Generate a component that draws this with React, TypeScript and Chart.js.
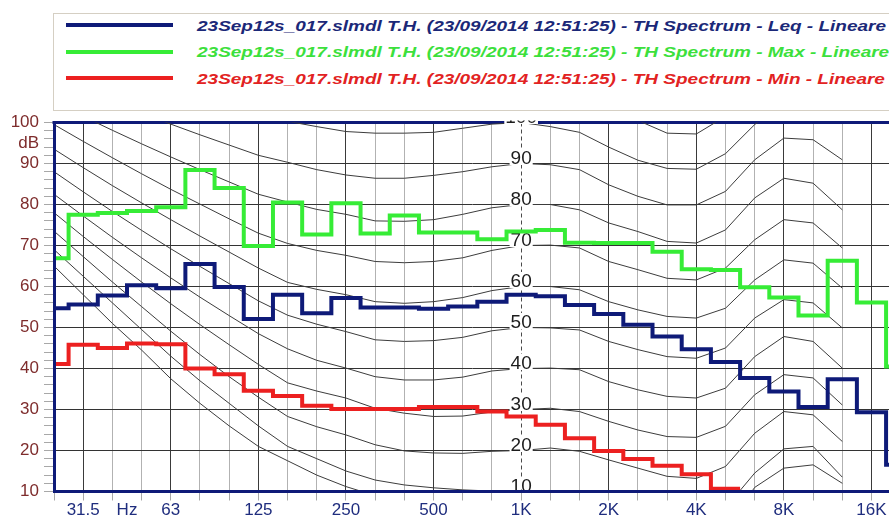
import React, { useEffect, useRef } from "react";
import { Chart, registerables } from "chart.js";

Chart.register(...registerables);

// Third-octave band centres, 25 Hz .. 20 kHz (index = x value on the chart)
const BANDS = ["25", "31.5", "40", "50", "63", "80", "100", "125", "160", "200", "250", "315", "400", "500", "630", "800", "1K", "1.25K", "1.6K", "2K", "2.5K", "3.15K", "4K", "5K", "6.3K", "8K", "10K", "12.5K", "16K", "20K"];

// Axis labels
const X_LABEL_POS = [1, 2.5, 4, 7, 10, 13, 16, 19, 22, 25, 28];
const X_LABEL_TEXT = ["31.5", "Hz", "63", "125", "250", "500", "1K", "2K", "4K", "8K", "16K"];
const OCTAVE_LINES = [1, 4, 7, 10, 13, 16, 19, 22, 25, 28];
const Y_LABEL_POS = [10, 20, 30, 40, 50, 60, 70, 80, 90, 95, 100];
const Y_LABEL_TEXT = ["10", "20", "30", "40", "50", "60", "70", "80", "90", "dB", "100"];
const ONE_K = 16;

// Measured spectra (dB), one value per band
const LEQ = [54.7, 55.6, 57.8, 60.3, 59.6, 65.5, 59.9, 52.1, 58.0, 53.5, 57.2, 54.9, 54.9, 54.6, 55.1, 56.3, 58.0, 57.6, 55.5, 53.3, 50.7, 47.8, 44.7, 41.6, 37.7, 34.4, 30.6, 37.4, 29.3, 16.5];
const MAX = [66.9, 77.5, 77.9, 78.4, 79.3, 88.4, 84.0, 69.9, 80.5, 72.7, 80.3, 72.9, 77.3, 73.2, 73.2, 71.5, 73.4, 73.8, 70.7, 70.6, 70.6, 68.5, 64.2, 64.0, 59.8, 57.3, 52.9, 66.3, 56.1, 40.5];
const MIN = [41.1, 45.8, 45.0, 46.1, 45.9, 40.0, 38.6, 34.6, 33.3, 30.9, 30.1, 30.1, 30.1, 30.6, 30.6, 29.5, 28.3, 26.3, 23.0, 19.9, 17.9, 16.3, 14.2, 10.7, null, null, null, null, null, null];

// Equal-loudness contours (dB per band, 25 Hz .. 12.5 kHz)
const PHON_LEVELS = [10, 20, 30, 40, 50, 60, 70, 80, 90, 100];
const CONTOUR_THRESHOLD = [65, 58, 51, 44.5, 37.5, 31.5, 26, 21, 17.5, 14, 11.2, 9, 7, 5.8, 5, 4.5, 4.2, 3.8, 2.5, 0, -2.5, -4.5, -4.5, 1, 11, 15.7, 16.5, 12];
const CONTOUR_10 = [69, 62.5, 56, 49.5, 43, 37, 31.5, 26, 21, 18, 15, 12.8, 11.6, 10.9, 10.4, 10.1, 10, 10.2, 9.6, 7.5, 5.5, 3.8, 3.2, 6, 14.5, 20.4, 21, 13.5];
const CONTOUR_20 = [73.5, 67.3, 61.1, 55.1, 49.1, 43.4, 38, 33, 28.3, 25.8, 23.8, 21.4, 19.9, 19.4, 19.3, 19.8, 20, 20.6, 19.8, 17.7, 15.7, 13.7, 13.2, 16.1, 24.2, 29.5, 28.7, 22.2];
const CONTOUR_30 = [78, 72.2, 66.6, 61.1, 55.8, 50.7, 45.8, 41, 36.5, 34.5, 32.8, 30.3, 29.1, 28.3, 28.4, 29.4, 30, 30.3, 29.5, 27.1, 25, 23.4, 23.2, 25.9, 33.6, 38.5, 37.7, 31.1];
const CONTOUR_40 = [82.5, 77.2, 72, 67, 62.1, 57.4, 52.9, 48.5, 44.8, 42, 40.1, 38, 37.2, 37.2, 37.9, 39.4, 40, 40.1, 39.7, 36.8, 34.8, 33.2, 32.8, 35.2, 42.9, 47.8, 46.6, 40.1];
const CONTOUR_50 = [88, 83.1, 78.3, 73.7, 69.2, 64.9, 60.7, 56.5, 53, 50.8, 49, 47, 46.6, 46.8, 47.6, 49.2, 50, 49.9, 49.4, 46.6, 44.6, 42.9, 42.5, 45, 52.3, 56.8, 56, 49.9];
const CONTOUR_60 = [93.5, 89, 84.6, 80.4, 76.3, 72.3, 68.4, 64.5, 61, 59.3, 58, 56.3, 55.9, 56.3, 57.3, 59, 60, 60, 59.2, 56.3, 54.3, 52.7, 52.3, 54.7, 61.6, 66.5, 65.7, 59.6];
const CONTOUR_70 = [99.5, 95.4, 91.4, 87.5, 83.7, 80.1, 76.5, 73, 70.5, 68.8, 67.6, 66.1, 65.8, 66.1, 67, 68.8, 70, 70.1, 69.4, 66.1, 64.1, 62, 61.6, 64.5, 71.4, 76.3, 75.5, 69.4];
const CONTOUR_80 = [105, 101.5, 98.1, 94.8, 91.6, 88.5, 85.5, 82.5, 80.6, 78.8, 77.6, 76, 75.9, 76.3, 77.6, 79.2, 80, 80, 78.7, 75.5, 73.4, 71, 70.6, 73.8, 81.6, 86.4, 85.2, 78.7];
const CONTOUR_90 = [111, 108, 105.1, 102.3, 99.6, 97, 94.5, 92, 90.3, 88.5, 87.2, 86.4, 86.4, 87.1, 88, 89.2, 90, 89.7, 88.5, 84.8, 82, 79.9, 79.9, 83.2, 90.9, 96.2, 95.8, 90.9];
const CONTOUR_100 = [117, 114.7, 112.4, 110.2, 108, 106, 104, 102, 100.3, 99, 97.8, 97.4, 97.4, 97.6, 98.6, 99.6, 100, 99, 97.6, 94, 90.8, 88.8, 88.6, 92.4, 99.5, 105, 105, 100.5];
const CONTOUR_110 = [null, null, null, null, null, null, null, null, null, null, null, null, null, null, null, null, null, null, 108, 104, 100.5, 97.4, 97.2, 101.5, 109, null, null, null];

const CONTOURS = [CONTOUR_THRESHOLD, CONTOUR_10, CONTOUR_20, CONTOUR_30, CONTOUR_40, CONTOUR_50, CONTOUR_60, CONTOUR_70, CONTOUR_80, CONTOUR_90, CONTOUR_100, CONTOUR_110];

const NAVY = "#0e1a78";
const GREEN = "#36ec36";
const RED = "#ec2020";
const FONT = '"Liberation Sans", Arial, Helvetica, sans-serif';

const LEGEND_BASE = "23Sep12s_017.slmdl T.H. (23/09/2014 12:51:25) - TH Spectrum - ";
const LEGEND_ROWS = [
  { text: LEGEND_BASE + "Leq - Lineare", line: NAVY, color: "#1b2878" },
  { text: LEGEND_BASE + "Max - Lineare", line: GREEN, color: "#3ce03c" },
  { text: LEGEND_BASE + "Min - Lineare", line: RED, color: "#e22222" },
];

// Each band value covers the span between its band edges (index +/- 0.5)
function stepPoints(values: (number | null)[]) {
  const pts: { x: number; y: number }[] = [];
  let last = -1;
  values.forEach((v, i) => {
    if (v !== null) {
      pts.push({ x: i - 0.5, y: v });
      last = i;
    }
  });
  pts.push({ x: last + 0.5, y: values[last] as number });
  return pts;
}

function contourPoints(values: (number | null)[]) {
  return values.map((v, i) => ({ x: i, y: v }));
}

const xGridValues = (): number[] => {
  const v: number[] = [];
  for (let i = 0; i <= 28; i++) {
    v.push(i);
    if (i === 2) v.push(2.5);
  }
  return v;
};

const yGridValues = (): number[] => {
  const v: number[] = [];
  for (let d = 10; d <= 100; d += 2) {
    v.push(d);
    if (d === 94) v.push(95);
  }
  return v;
};

const phonLabelPlugin = {
  id: "phonLabels",
  beforeDatasetsDraw(chart: any) {
    chart.$phonDone = false;
    const { ctx, chartArea } = chart;
    ctx.save();
    ctx.strokeStyle = NAVY;
    ctx.lineWidth = 3;
    ctx.beginPath();
    ctx.moveTo(chartArea.left - 1.5, chartArea.top);
    ctx.lineTo(chartArea.right, chartArea.top);
    ctx.stroke();
    ctx.restore();
  },
  beforeDatasetDraw(chart: any, args: any) {
    if (args.index < CONTOURS.length || chart.$phonDone) return;
    chart.$phonDone = true;
    const { ctx, chartArea } = chart;
    const { left, right, top, bottom } = chartArea;
    const xs = chart.scales.x;
    const ys = chart.scales.y;
    const x = xs.getPixelForValue(ONE_K);
    ctx.save();
    ctx.beginPath();
    ctx.rect(left, top - 2, right - left, bottom - top + 2);
    ctx.clip();
    ctx.font = "19px " + FONT;
    ctx.textAlign = "center";
    ctx.textBaseline = "alphabetic";
    PHON_LEVELS.forEach((p) => {
      const y = ys.getPixelForValue(p);
      const t = String(p);
      const w = ctx.measureText(t).width;
      const yTop = y - 14.5;
      const yBot = Math.min(y + 1.5, bottom - 2);
      ctx.fillStyle = "#ffffff";
      ctx.fillRect(x - w / 2 - 1, yTop, w + 2, yBot - yTop);
      ctx.fillStyle = "#1c1c1c";
      ctx.fillText(t, x, y + 0.5);
    });
    ctx.restore();
  },
};

function Legend() {
  const font = "italic bold 15px " + FONT;
  let scale = 1.27;
  if (typeof document !== "undefined") {
    const c = document.createElement("canvas").getContext("2d");
    if (c) {
      c.font = font;
      const w = c.measureText(LEGEND_ROWS[0].text).width;
      if (w > 0) scale = 689 / w;
    }
  }
  const rowY = [25, 51.7, 78.3];
  return (
    <div
      style={{
        position: "absolute",
        left: 53,
        top: 13,
        width: 900,
        height: 98,
        border: "1px solid #d5cfc3",
        boxSizing: "border-box",
        overflow: "hidden",
        background: "#ffffff",
      }}
    >
      {LEGEND_ROWS.map((r, i) => (
        <React.Fragment key={i}>
          <div
            style={{
              position: "absolute",
              left: 66 - 54,
              top: rowY[i] - 14 - 2,
              width: 107,
              height: 4,
              background: r.line,
            }}
          />
          <div
            style={{
              position: "absolute",
              left: 196.7 - 54,
              top: rowY[i] - 14 - 7.3,
              whiteSpace: "nowrap",
              font,
              lineHeight: "15px",
              color: r.color,
              transform: `scaleX(${scale})`,
              transformOrigin: "0 0",
            }}
          >
            {r.text}
          </div>
        </React.Fragment>
      ))}
    </div>
  );
}

export default function App() {
  const canvasRef = useRef<HTMLCanvasElement | null>(null);

  useEffect(() => {
    const canvas = canvasRef.current;
    if (!canvas) return;

    const contourSets = CONTOURS.map((vals) => ({
      data: contourPoints(vals),
      borderColor: "#3c3c3c",
      borderWidth: 1,
      pointRadius: 0,
      tension: 0,
      spanGaps: false,
      order: 2,
    }));

    const stepSet = (vals: (number | null)[], color: string) => ({
      data: stepPoints(vals),
      borderColor: color,
      borderWidth: 4,
      pointRadius: 0,
      stepped: "before" as const,
      borderJoinStyle: "miter" as const,
      borderCapStyle: "butt" as const,
      order: 1,
    });

    const xGrid = xGridValues();
    const yGrid = yGridValues();

    const chart = new Chart(canvas, {
      type: "line",
      data: {
        datasets: [...contourSets, stepSet(LEQ, NAVY), stepSet(MAX, GREEN), stepSet(MIN, RED)] as any,
      },
      plugins: [phonLabelPlugin],
      options: {
        responsive: false,
        animation: false,
        devicePixelRatio: 1,
        layout: { padding: { top: 122.5, left: 0, right: 0, bottom: 0 } },
        plugins: { legend: { display: false }, tooltip: { enabled: false } },
        elements: { point: { radius: 0 } },
        scales: {
          x: {
            type: "linear",
            min: 0,
            max: 28.6,
            afterBuildTicks: (s: any) => {
              s.ticks = xGrid.map((v) => ({ value: v }));
            },
            afterFit: (s: any) => {
              s.height = 34.5;
            },
            ticks: {
              autoSkip: false,
              maxRotation: 0,
              minRotation: 0,
              padding: 0,
              color: "#1f2d7e",
              font: { family: FONT, size: 17 },
              callback: (v: any) => {
                const k = X_LABEL_POS.indexOf(Number(v));
                return k >= 0 ? X_LABEL_TEXT[k] : "";
              },
            },
            grid: {
              lineWidth: 1,
              tickLength: 9,
              color: (c: any) => {
                const v = c.tick ? c.tick.value : -1;
                if (v === 2.5) return "rgba(0,0,0,0)";
                if (v === ONE_K) return "#4a4a4a";
                return OCTAVE_LINES.indexOf(v) >= 0 ? "#3a3a3a" : "#b2b2b2";
              },
              tickColor: (c: any) => {
                const v = c.tick ? c.tick.value : -1;
                return v === 2.5 ? "rgba(0,0,0,0)" : "#a8a8a8";
              },
            },
            border: {
              display: true,
              color: NAVY,
              width: 3,
              z: 1,
              dash: (c: any) => (c.tick && c.tick.value === ONE_K ? [4, 3] : []),
            },
          },
          y: {
            type: "linear",
            min: 10,
            max: 100,
            afterBuildTicks: (s: any) => {
              s.ticks = yGrid.map((v) => ({ value: v }));
            },
            afterFit: (s: any) => {
              s.width = 54;
            },
            ticks: {
              autoSkip: false,
              padding: 5,
              color: "#7e2c2c",
              font: { family: FONT, size: 17 },
              callback: (v: any) => {
                const k = Y_LABEL_POS.indexOf(Number(v));
                return k >= 0 ? Y_LABEL_TEXT[k] : "";
              },
            },
            grid: {
              lineWidth: 1,
              tickLength: 10,
              color: (c: any) => {
                const v = c.tick ? c.tick.value : 0;
                return v % 10 === 0 ? "#333333" : "rgba(0,0,0,0)";
              },
              tickColor: (c: any) => {
                const v = c.tick ? c.tick.value : 0;
                return v === 95 ? "rgba(0,0,0,0)" : "#a8a8a8";
              },
            },
            border: { display: true, color: NAVY, width: 3, z: 1 },
          },
        },
      } as any,
    });

    return () => chart.destroy();
  }, []);

  return (
    <div
      style={{
        position: "fixed",
        left: 0,
        top: 0,
        width: 889,
        height: 526,
        background: "#ffffff",
        overflow: "hidden",
      }}
    >
      <canvas
        ref={canvasRef}
        width={889}
        height={526}
        style={{ position: "absolute", left: 0, top: 0, width: 889, height: 526 }}
      />
      <Legend />
    </div>
  );
}
